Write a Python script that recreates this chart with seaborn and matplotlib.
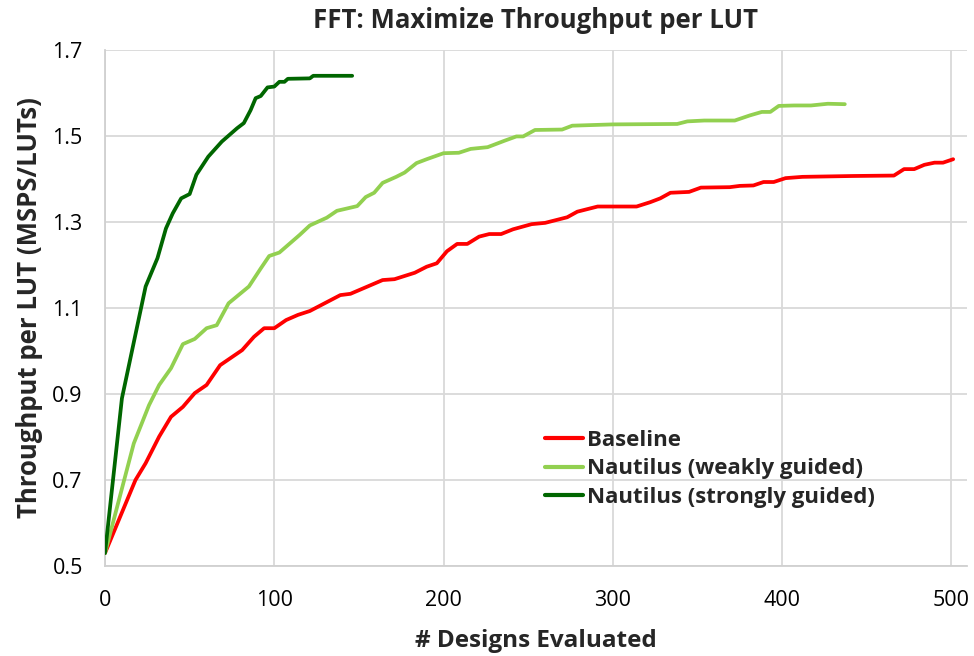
import matplotlib
matplotlib.use("Agg")
import matplotlib.pyplot as plt
import seaborn as sns
import pandas as pd

series_names = ["Baseline", "Nautilus (weakly guided)", "Nautilus (strongly guided)"]

baseline_x = [0, 18, 24, 32, 39, 46, 53, 60, 68, 81, 88, 94, 100, 107, 114, 121, 139, 145, 164, 171,
              183, 190, 196, 202, 208, 214, 221, 227, 234, 241, 252, 260, 273, 279, 291, 314, 322, 328, 334, 345,
              352, 369, 375, 383, 389, 395, 402, 412, 442, 466, 472, 478, 484, 490, 495, 501]
baseline_y = [0.53, 0.70, 0.739, 0.801, 0.847, 0.870, 0.902, 0.921, 0.967, 1.002, 1.033, 1.053, 1.053, 1.072,
              1.084, 1.093, 1.130, 1.133, 1.165, 1.167, 1.182, 1.196, 1.204, 1.232, 1.249, 1.249, 1.266, 1.272,
              1.272, 1.283, 1.295, 1.298, 1.311, 1.324, 1.336, 1.336, 1.346, 1.355, 1.368, 1.370, 1.380, 1.381,
              1.384, 1.385, 1.393, 1.393, 1.402, 1.405, 1.407, 1.408, 1.423, 1.423, 1.433, 1.438, 1.438, 1.446]

weak_x = [0, 17, 26, 32, 39, 46, 53, 60, 66, 73, 85, 92, 97, 103, 115, 121, 131, 137, 149, 154,
          159, 164, 172, 177, 184, 190, 200, 209, 216, 226, 236, 243, 247, 254, 270, 276, 300, 338, 344, 354,
          372, 381, 388, 393, 398, 407, 417, 427, 437]
weak_y = [0.53, 0.785, 0.874, 0.921, 0.96, 1.016, 1.028, 1.053, 1.06, 1.111, 1.15, 1.192, 1.221, 1.229, 1.27,
          1.292, 1.31, 1.326, 1.337, 1.358, 1.368, 1.391, 1.405, 1.415, 1.437, 1.446, 1.46, 1.461, 1.47, 1.474,
          1.489, 1.499, 1.499, 1.514, 1.515, 1.524, 1.527, 1.528, 1.534, 1.536, 1.536, 1.548, 1.556, 1.556,
          1.570, 1.571, 1.571, 1.575, 1.574]

strong_x = [0, 10, 24, 31, 36, 40, 45, 50, 54, 61, 69, 78, 82, 86, 89, 92, 96, 100, 103, 106, 108, 121, 123, 146]
strong_y = [0.53, 0.89, 1.15, 1.216, 1.285, 1.32, 1.355, 1.365, 1.41, 1.452, 1.487, 1.518, 1.53, 1.56, 1.588,
            1.593, 1.613, 1.615, 1.626, 1.626, 1.633, 1.634, 1.64, 1.64]

x_ticks = [0, 100, 200, 300, 400, 500]
y_ticks = [0.5, 0.7, 0.9, 1.1, 1.3, 1.5, 1.7]

colors = {series_names[0]: "#FF0000", series_names[1]: "#92D050", series_names[2]: "#006600"}

frames = []
for name, xs, ys in zip(series_names, [baseline_x, weak_x, strong_x], [baseline_y, weak_y, strong_y]):
    frames.append(pd.DataFrame({"x": xs, "y": ys, "series": name}))
df = pd.concat(frames, ignore_index=True)

sns.set_theme(style="white")
plt.rcParams["font.family"] = ["Open Sans", "DejaVu Sans"]

fig = plt.figure(figsize=(9.74, 6.56), dpi=100)
ax = fig.add_axes([105 / 974, 90 / 656, 861.7 / 974, 516 / 656])

sns.lineplot(data=df, x="x", y="y", hue="series", hue_order=series_names, palette=colors,
             estimator=None, sort=False, linewidth=2.7, ax=ax, zorder=3)

ax.set_xlim(0, 509)
ax.set_ylim(0.5, 1.7)
ax.set_xticks(x_ticks)
ax.set_yticks(y_ticks)
ax.set_xticklabels([str(t) for t in x_ticks])
ax.set_yticklabels([f"{t:.1f}" for t in y_ticks])
ax.tick_params(axis="both", labelsize=15.5, length=0, colors="#000000")
ax.tick_params(axis="x", pad=17)
ax.tick_params(axis="y", pad=16)
ax.grid(True, color="#d9d9d9", linewidth=1.3, zorder=0)
ax.set_axisbelow(True)
for s in ["top", "right"]:
    ax.spines[s].set_visible(False)
for s in ["left", "bottom"]:
    ax.spines[s].set_color("#d0d0d0")
    ax.spines[s].set_linewidth(1.3)

ax.set_title("FFT: Maximize Throughput per LUT", fontsize=18.5, fontweight="bold", pad=16)
ax.set_xlabel("# Designs Evaluated", fontsize=17.5, fontweight="bold", labelpad=13)
ax.set_ylabel("Throughput per LUT (MSPS/LUTs)", fontsize=18.5, fontweight="bold", labelpad=7)

leg = ax.legend(loc="center", bbox_to_anchor=(0.702, 0.188), frameon=False, fontsize=16,
                handlelength=1.7, handletextpad=0.2, labelspacing=0.35)
for t in leg.get_texts():
    t.set_fontweight("bold")
for l in leg.get_lines():
    l.set_linewidth(3)

fig.savefig("out.png", dpi=100)
